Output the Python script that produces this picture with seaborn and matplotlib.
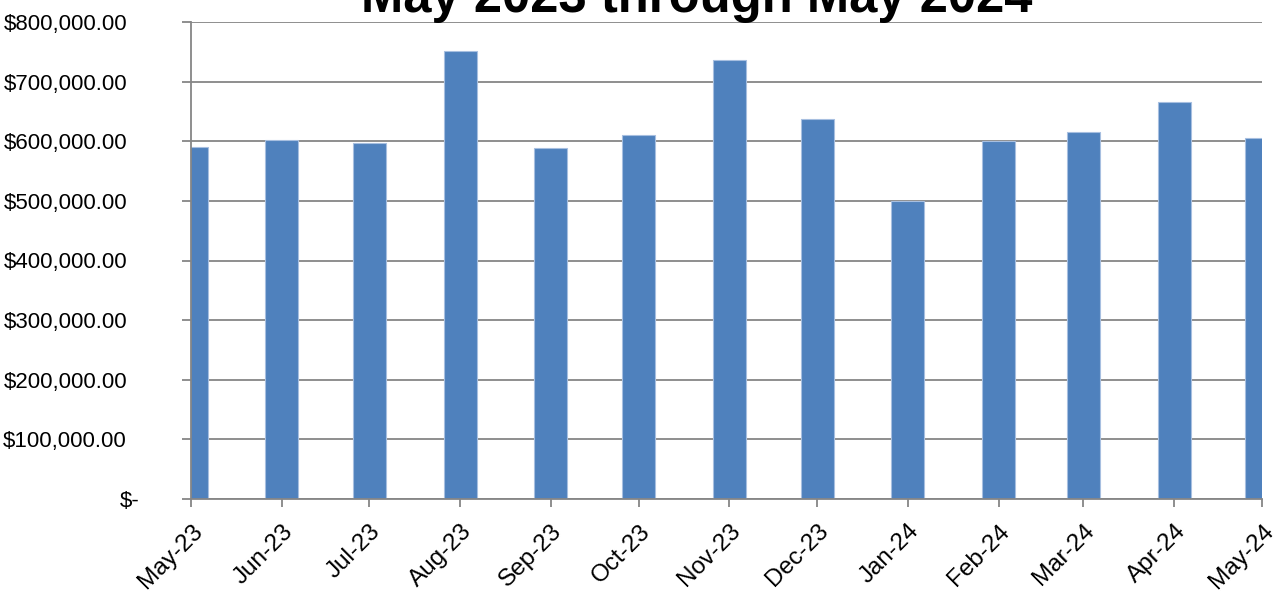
import pandas as pd
import matplotlib
matplotlib.use("Agg")
import matplotlib.pyplot as plt
import matplotlib.dates as mdates
import matplotlib.transforms as mtransforms
import seaborn as sns

# ── DATA ─────────────────────────────────────────────────────
month_starts = ["2023-05-01", "2023-06-01", "2023-07-01", "2023-08-01",
                "2023-09-01", "2023-10-01", "2023-11-01", "2023-12-01",
                "2024-01-01", "2024-02-01", "2024-03-01", "2024-04-01",
                "2024-05-01"]
amounts = [590000, 602000, 597000, 752000, 588000, 611000, 736000,
           638000, 500000, 600000, 616000, 665000, 606000]
y_ticks = [0, 100000, 200000, 300000, 400000, 500000, 600000, 700000, 800000]
title = "May 2023 through May 2024"

dates = pd.to_datetime(month_starts)
df = pd.DataFrame({"date": mdates.date2num(dates), "amount": amounts})

# ── STYLE ────────────────────────────────────────────────────
sns.set_style("white")
plt.rcParams["font.family"] = ["Liberation Sans", "DejaVu Sans"]
plt.rcParams["text.color"] = "black"
grey = "#868686"
bar_color = "#4F81BD"

fig = plt.figure(figsize=(12.78, 5.96), dpi=100)
ax = fig.add_axes([191 / 1278, 1 - 499 / 596, (1262 - 191) / 1278, (499 - 22) / 596])

sns.barplot(data=df, x="date", y="amount", native_scale=True, width=0.39,
            color=bar_color, saturation=1, edgecolor="#a7bfe0", linewidth=0.8,
            ax=ax, zorder=3)

# ── AXES ─────────────────────────────────────────────────────
ax.set_xlim(df["date"].iloc[0], df["date"].iloc[-1])
ax.set_ylim(0, 800000)
ax.set_yticks(y_ticks)
ax.set_yticklabels(["$-"] + [f"${v:,.2f}" for v in y_ticks[1:]])
ax.set_xticks(df["date"])
ax.set_xticklabels([d.strftime("%b-%y") for d in dates], rotation=45,
                   ha="right", va="center", rotation_mode="anchor")
ax.set_xlabel("")
ax.set_ylabel("")

ax.yaxis.grid(True, color=grey, linewidth=1.3, zorder=0)
ax.set_axisbelow(True)
for side in ["top", "right"]:
    ax.spines[side].set_visible(False)
for side in ["left", "bottom"]:
    ax.spines[side].set_color(grey)
    ax.spines[side].set_linewidth(1.3)
    ax.spines[side].set_zorder(4)

ax.tick_params(axis="y", direction="out", length=6.5, width=1.3, color=grey,
               pad=39.6, labelsize=16, labelcolor="black", left=True)
ax.tick_params(axis="x", direction="out", length=5.8, width=1.3, color=grey,
               pad=15, labelsize=17.5, labelcolor="black", bottom=True)

# nudge labels like the spreadsheet layout
xoff = mtransforms.ScaledTranslation(8 / 100, 0, fig.dpi_scale_trans)
for lbl in ax.get_xticklabels():
    lbl.set_transform(lbl.get_transform() + xoff)
zero_lbl = ax.get_yticklabels()[0]
zero_lbl.set_transform(zero_lbl.get_transform() +
                       mtransforms.ScaledTranslation(13 / 100, 0, fig.dpi_scale_trans))

fig.text(697 / 1278, 1 - 12 / 596, title, ha="center", va="baseline",
         fontsize=36.5, fontweight="bold")

plt.savefig("out.png", dpi=100)
